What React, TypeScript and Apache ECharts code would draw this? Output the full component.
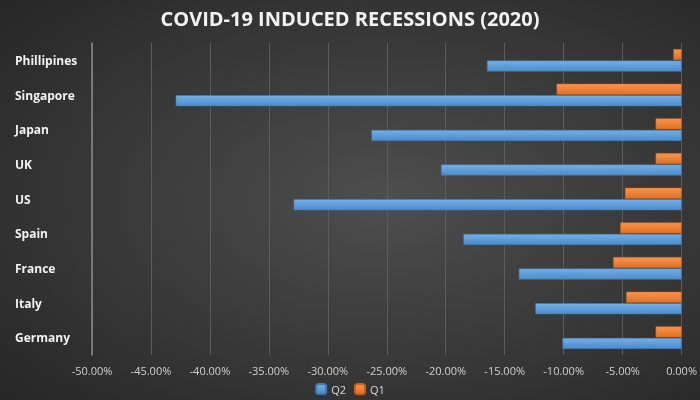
import React, { useEffect, useRef } from "react";
import * as echarts from "echarts";

const categories = ["Germany", "Italy", "France", "Spain", "US", "UK", "Japan", "Singapore", "Phillipines"];
const q2Values = [-10.1, -12.4, -13.8, -18.5, -32.9, -20.4, -26.3, -42.9, -16.5];
const q1Values = [-2.2, -4.7, -5.8, -5.2, -4.8, -2.2, -2.2, -10.6, -0.7];
const seriesNames = ["Q2", "Q1"];

export default function App() {
  const ref = useRef<HTMLDivElement>(null);
  useEffect(() => {
    if (!ref.current) return;
    const chart = echarts.init(ref.current, null, { renderer: "svg" });
    const blue = new echarts.graphic.LinearGradient(0, 0, 0, 1, [
      { offset: 0, color: "#74b0e8" },
      { offset: 1, color: "#4a8bc9" },
    ]);
    const orange = new echarts.graphic.LinearGradient(0, 0, 0, 1, [
      { offset: 0, color: "#f89550" },
      { offset: 1, color: "#e06f22" },
    ]);
    chart.setOption({
      animation: false,
      backgroundColor: new echarts.graphic.RadialGradient(0.55, 0.5, 0.75, [
        { offset: 0, color: "#4e4e4e" },
        { offset: 1, color: "#262626" },
      ]),
      title: {
        text: "COVID-19 INDUCED RECESSIONS (2020)",
        left: "center",
        top: 3,
        textStyle: {
          color: "#f2f2f2",
          fontFamily: "Open Sans",
          fontWeight: "bold",
          fontSize: 20,
        },
      },
      legend: {
        data: seriesNames,
        bottom: 0,
        left: "center",
        itemWidth: 10,
        itemHeight: 10,
        textStyle: { color: "#d9d9d9", fontSize: 11, fontFamily: "Open Sans" },
      },
      grid: { left: 92, right: 14, top: 43, bottom: 45, containLabel: false },
      xAxis: {
        type: "value",
        min: -50,
        max: 0,
        interval: 5,
        axisLine: { show: false },
        axisTick: { show: false },
        splitLine: { show: true, lineStyle: { color: "#5c5c5c", width: 1 } },
        axisLabel: {
          color: "#d0d0d0",
          fontSize: 11,
          fontFamily: "Open Sans",
          margin: 10,
          formatter: (v: number) => v.toFixed(2) + "%",
        },
      },
      yAxis: {
        type: "category",
        data: categories,
        position: "left",
        axisLine: { show: true, onZero: false, lineStyle: { color: "#8a8a8a", width: 1.5 } },
        axisTick: { show: false },
        splitLine: { show: false },
        axisLabel: {
          color: "#f2f2f2",
          fontWeight: "bold",
          fontSize: 12,
          fontFamily: "Open Sans",
          align: "left",
          margin: 77,
        },
      },
      series: [
        {
          name: seriesNames[1],
          type: "bar",
          data: q1Values,
          barWidth: 11,
          barGap: "5%",
          itemStyle: { color: orange, borderColor: "#c9601c", borderWidth: 0.5 },
        },
        {
          name: seriesNames[0],
          type: "bar",
          data: q2Values,
          barWidth: 11,
          barGap: "5%",
          itemStyle: { color: blue, borderColor: "#3f7ab3", borderWidth: 0.5 },
        },
      ],
    });
    return () => chart.dispose();
  }, []);
  return (
    <div
      ref={ref}
      style={{ position: "fixed", left: 0, top: 0, width: 700, height: 400 }}
    />
  );
}
